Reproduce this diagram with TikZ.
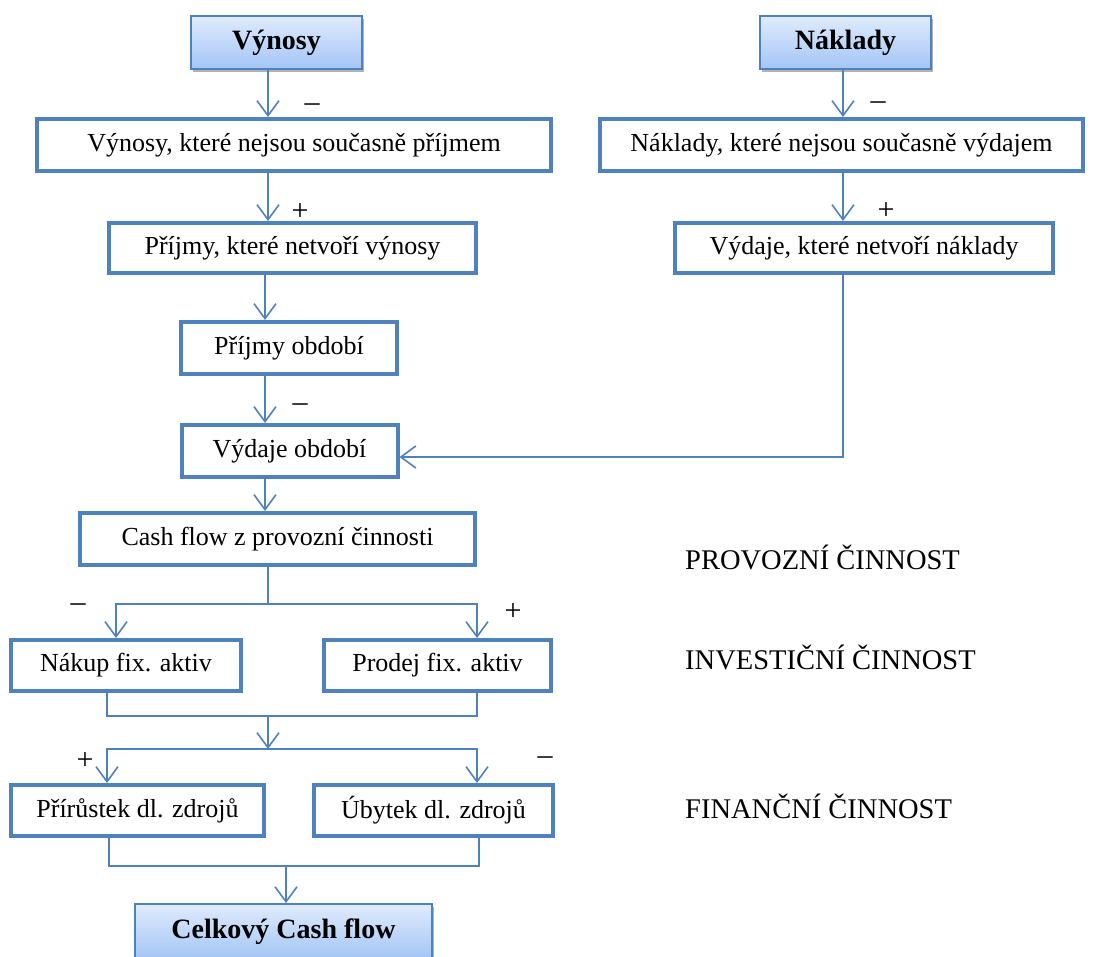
\documentclass[tikz,border=0pt]{standalone}
\usepackage{fontspec}
\setmainfont{Liberation Serif}
\usetikzlibrary{arrows.meta,shadows}
\definecolor{lineblue}{RGB}{79,129,189}
\definecolor{hdrtop}{RGB}{224,235,252}
\definecolor{hdrbot}{RGB}{163,197,246}
\tikzset{
  boxnode/.style={draw=lineblue, line width=4pt, fill=white, inner sep=0pt,
    font=\fontsize{26}{30}\selectfont},
  hdrnode/.style={draw=lineblue, line width=1.8pt, top color=hdrtop, bottom color=hdrbot,
    inner sep=0pt, font=\fontsize{28}{32}\selectfont\bfseries,
    drop shadow={shadow xshift=1.5pt, shadow yshift=-3pt, opacity=0.3, fill=black}},
  arr/.style={draw=lineblue, line width=1.6pt, -{Straight Barb[length=15pt,width=22pt]}},
  conn/.style={draw=lineblue, line width=1.6pt},
  sign/.style={inner sep=0pt, font=\fontsize{30}{34}\selectfont},
  sidelabel/.style={inner sep=0pt, anchor=base west, font=\fontsize{28.5}{32}\selectfont}
}
\begin{document}
\begin{tikzpicture}[x=1pt,y=-1pt]
\useasboundingbox (0,0) rectangle (1097,956);
% nodes
\node[hdrnode, minimum width=171, minimum height=53] (vyn) at (276.5,42.5) {Výnosy};
\node[hdrnode, minimum width=171, minimum height=53] (nak) at (845.5,42.5) {Náklady};
\node[boxnode, minimum width=514, minimum height=52] (b1) at (294,145) {Výnosy, které nejsou současně příjmem};
\node[boxnode, minimum width=483, minimum height=52] (b2) at (841.5,145) {Náklady, které nejsou současně výdajem};
\node[boxnode, minimum width=367, minimum height=50] (pr1) at (292.5,248) {Příjmy, které netvoří výnosy};
\node[boxnode, minimum width=378, minimum height=50] (vd1) at (864,248) {Výdaje, které netvoří náklady};
\node[boxnode, minimum width=216, minimum height=52] (po) at (289,348) {Příjmy období};
\node[boxnode, minimum width=216, minimum height=52] (vo) at (289.5,451) {Výdaje období};
\node[boxnode, minimum width=395, minimum height=52] (cf) at (277.5,539) {Cash flow z provozní činnosti};
\node[boxnode, minimum width=230, minimum height=51] (nk) at (126,665.5) {Nákup fix. aktiv};
\node[boxnode, minimum width=227, minimum height=51] (pd) at (437.5,665.5) {Prodej fix. aktiv};
\node[boxnode, minimum width=253, minimum height=51] (pz) at (137.5,810.5) {Přírůstek dl. zdrojů};
\node[boxnode, minimum width=239, minimum height=51] (ub) at (433.5,810.5) {Úbytek dl. zdrojů};
\node[hdrnode, minimum width=297, minimum height=55] (cc) at (283.5,931.5) {Celkový Cash flow};
% side labels
\node[sidelabel] (lp) at (685,569) {PROVOZNÍ ČINNOST};
\node[sidelabel] (li) at (685,669) {INVESTIČNÍ ČINNOST};
\node[sidelabel] (lf) at (685,818) {FINANČNÍ ČINNOST};
% helper coordinates
\coordinate (xa) at (268,0);
\coordinate (xb) at (265,0);
\coordinate (xr) at (843,0);
\coordinate (kv) at (843,457);
\coordinate (j1) at (268,604);
\coordinate (xl1) at (116,0);
\coordinate (xr1) at (477,0);
\coordinate (j2) at (268,716);
\coordinate (j2l) at (107,716);
\coordinate (j2r) at (477,716);
\coordinate (j3) at (268,749);
\coordinate (xl2) at (107,0);
\coordinate (xr2) at (477,0);
\coordinate (j4) at (286,866);
\coordinate (j4l) at (109,866);
\coordinate (j4r) at (479,866);
% connectors
\draw[arr] (vyn.south -| xa) -- (b1.north -| xa);
\draw[arr] (b1.south -| xa) -- (pr1.north -| xa);
\draw[arr] (pr1.south -| xb) -- (po.north -| xb);
\draw[arr] (po.south -| xb) -- (vo.north -| xb);
\draw[arr] (vo.south -| xb) -- (cf.north -| xb);
\draw[arr] (nak.south -| xr) -- (b2.north -| xr);
\draw[arr] (b2.south -| xr) -- (vd1.north -| xr);
\draw[arr] (vd1.south -| xr) -- (kv) -- (vo.east |- kv);
\draw[conn] (cf.south -| j1) -- (j1);
\draw[arr] (j1) -| (nk.north -| xl1);
\draw[arr] (j1) -| (pd.north -| xr1);
\draw[conn] (nk.south -| j2l) -- (j2l) -- (j2r) -- (pd.south -| j2r);
\draw[arr] (j2) -- (j3);
\draw[arr] (j3) -| (pz.north -| xl2);
\draw[arr] (j3) -| (ub.north -| xr2);
\draw[conn] (pz.south -| j4l) -- (j4l) -- (j4r) -- (ub.south -| j4r);
\draw[arr] (j4) -- (cc.north -| j4);
% signs
\node[sign] (s1) at (312,108) {–};
\node[sign] (s2) at (878,106) {–};
\node[sign] (s3) at (300,212) {+};
\node[sign] (s4) at (886,211) {+};
\node[sign] (s5) at (300,408) {–};
\node[sign] (s6) at (78,608) {–};
\node[sign] (s7) at (513,612) {+};
\node[sign] (s8) at (85,761) {+};
\node[sign] (s9) at (545,761) {–};
\end{tikzpicture}
\end{document}
